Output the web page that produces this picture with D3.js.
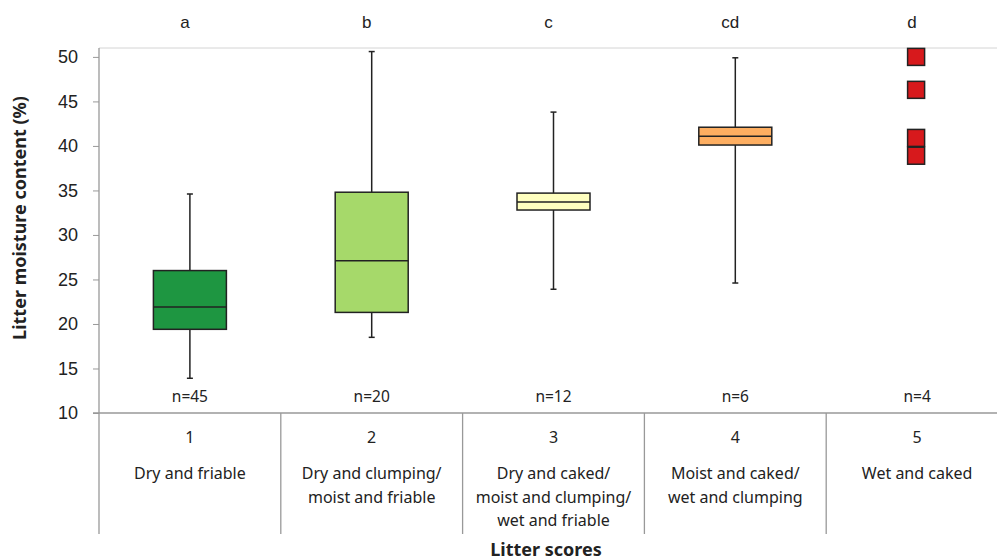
<!DOCTYPE html>
<html>
<head>
<meta charset="utf-8">
<script src="https://cdn.jsdelivr.net/npm/d3@7"></script>
<style>
  body { margin: 0; background: #fff; }
  text { font-family: "Noto Sans", "Open Sans", sans-serif; fill: #222; }
  .arial { font-family: "Liberation Sans", Arial, sans-serif; }
</style>
</head>
<body>
<div id="chart"></div>
<script>
// Box plot values
const scores = ["1", "2", "3", "4", "5"];
const descriptions = [
  ["Dry and friable"],
  ["Dry and clumping/", "moist and friable"],
  ["Dry and caked/", "moist and clumping/", "wet and friable"],
  ["Moist and caked/", "wet and clumping"],
  ["Wet and caked"]
];
const sigLetters = ["a", "b", "c", "cd", "d"];
const counts = [45, 20, 12, 6, 4];
const whiskerLow = [13.9, 18.5, 23.9, 24.6];
const q1 = [19.4, 21.3, 32.8, 40.1];
const median = [21.9, 27.1, 33.7, 41.1];
const q3 = [26.0, 34.8, 34.7, 42.1];
const whiskerHigh = [34.6, 50.6, 43.8, 49.9];
const score5Points = [50.0, 46.3, 40.9, 38.9];
const boxColors = ["#1e9641", "#a6d96a", "#ffffbf", "#fdae61", "#d7191c"];
const yTicks = [10, 15, 20, 25, 30, 35, 40, 45, 50];

const W = 997, H = 560;
const plotLeft = 99, plotTop = 48, plotBottom = 413;

const svg = d3.select("#chart").append("svg")
  .attr("width", W)
  .attr("height", H);

const x = d3.scaleBand().domain(scores).range([plotLeft, plotLeft + 5 * 181.8]).padding(0);
const y = d3.scaleLinear().domain([10, 51]).range([plotBottom, plotTop]);
const boxW = 73;

// frame lines
svg.append("line")
  .attr("x1", plotLeft).attr("x2", W).attr("y1", plotTop).attr("y2", plotTop)
  .attr("stroke", "#d4d4d4").attr("stroke-width", 1);

// y axis
const yAxis = d3.axisLeft(y).tickValues(yTicks).tickSize(6).tickPadding(15);
const gy = svg.append("g")
  .attr("transform", "translate(" + plotLeft + ",0)")
  .call(yAxis);
gy.select(".domain").remove();
gy.selectAll(".tick line").attr("stroke", "#999");
gy.selectAll(".tick text")
  .attr("class", "arial")
  .style("font-size", "18px")
  .attr("fill", "#222");

svg.append("line")
  .attr("x1", plotLeft).attr("x2", plotLeft).attr("y1", plotTop).attr("y2", 534)
  .attr("stroke", "#999").attr("stroke-width", 1.3);

// x axis line and category separators
svg.append("line")
  .attr("x1", plotLeft - 6).attr("x2", W).attr("y1", plotBottom).attr("y2", plotBottom)
  .attr("stroke", "#999").attr("stroke-width", 1.3);

svg.selectAll(".sep")
  .data(scores.slice(1))
  .enter()
  .append("line")
  .attr("class", "sep")
  .attr("x1", d => x(d)).attr("x2", d => x(d))
  .attr("y1", plotBottom).attr("y2", 534)
  .attr("stroke", "#999").attr("stroke-width", 1.3);

// boxes for scores 1-4
const boxData = scores.slice(0, 4).map((s, i) => ({
  score: s, lo: whiskerLow[i], q1: q1[i], med: median[i], q3: q3[i], hi: whiskerHigh[i], color: boxColors[i]
}));

const g = svg.selectAll(".box")
  .data(boxData)
  .enter()
  .append("g")
  .attr("class", "box")
  .attr("transform", d => "translate(" + (x(d.score) + x.bandwidth() / 2) + ",0)");

g.append("line")
  .attr("x1", 0).attr("x2", 0)
  .attr("y1", d => y(d.hi)).attr("y2", d => y(d.lo))
  .attr("stroke", "#222").attr("stroke-width", 1.5);

g.append("line")
  .attr("x1", -3).attr("x2", 3)
  .attr("y1", d => y(d.hi)).attr("y2", d => y(d.hi))
  .attr("stroke", "#222").attr("stroke-width", 1.5);

g.append("line")
  .attr("x1", -3).attr("x2", 3)
  .attr("y1", d => y(d.lo)).attr("y2", d => y(d.lo))
  .attr("stroke", "#222").attr("stroke-width", 1.5);

g.append("rect")
  .attr("x", -boxW / 2)
  .attr("width", boxW)
  .attr("y", d => y(d.q3))
  .attr("height", d => y(d.q1) - y(d.q3))
  .attr("fill", d => d.color)
  .attr("stroke", "#222").attr("stroke-width", 1.5);

g.append("line")
  .attr("x1", -boxW / 2).attr("x2", boxW / 2)
  .attr("y1", d => y(d.med)).attr("y2", d => y(d.med))
  .attr("stroke", "#222").attr("stroke-width", 1.5);

// individual points for score 5
const sq = 17;
svg.selectAll(".pt")
  .data(score5Points)
  .enter()
  .append("rect")
  .attr("class", "pt")
  .attr("x", x("5") + x.bandwidth() / 2 - sq / 2 - 1)
  .attr("y", d => y(d) - sq / 2)
  .attr("width", sq).attr("height", sq)
  .attr("fill", boxColors[4])
  .attr("stroke", "#222").attr("stroke-width", 1.5);

// significance letters
svg.selectAll(".sig")
  .data(sigLetters)
  .enter()
  .append("text")
  .attr("class", "sig arial")
  .attr("x", (d, i) => x(scores[i]) + x.bandwidth() / 2 - 5)
  .attr("y", 28)
  .attr("text-anchor", "middle")
  .style("font-size", "17px")
  .text(d => d);

// n labels
svg.selectAll(".n")
  .data(counts)
  .enter()
  .append("text")
  .attr("class", "n")
  .attr("x", (d, i) => x(scores[i]) + x.bandwidth() / 2)
  .attr("y", 402)
  .attr("text-anchor", "middle")
  .style("font-size", "15.5px")
  .text(d => "n=" + d);

// category numbers and descriptions
svg.selectAll(".num")
  .data(scores)
  .enter()
  .append("text")
  .attr("class", "num")
  .attr("x", d => x(d) + x.bandwidth() / 2)
  .attr("y", 443)
  .attr("text-anchor", "middle")
  .style("font-size", "16px")
  .text(d => d);

scores.forEach((s, i) => {
  descriptions[i].forEach((line, j) => {
    svg.append("text")
      .attr("x", x(s) + x.bandwidth() / 2)
      .attr("y", 479 + j * 23.5)
      .attr("text-anchor", "middle")
      .style("font-size", "16px")
      .text(line);
  });
});

// axis titles
svg.append("text")
  .attr("x", 546)
  .attr("y", 556)
  .attr("text-anchor", "middle")
  .style("font-size", "18px")
  .style("font-weight", "bold")
  .text("Litter scores");

svg.append("text")
  .attr("transform", "translate(26,218) rotate(-90)")
  .attr("text-anchor", "middle")
  .style("font-size", "18px")
  .style("font-weight", "bold")
  .text("Litter moisture content (%)");
</script>
</body>
</html>
